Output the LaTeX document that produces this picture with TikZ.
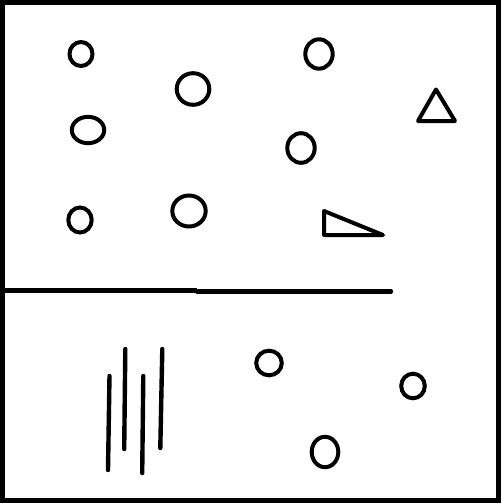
\documentclass[tikz,border=0pt]{standalone}
\begin{document}
\begin{tikzpicture}[x=1pt,y=-1pt,
  shape line/.style={draw=black,line width=4pt},
  stroke/.style={draw=black,line width=4.4pt,line cap=round}]
\useasboundingbox (0,0) rectangle (501,503);
\fill[white] (0,0) rectangle (501,503);
% frame
\draw[line width=4.8pt] (2.3,2.3) rectangle (498.6,500.6);
% divider
\draw[stroke,line cap=butt] (4,290.4) -- (197,290.4);
\draw[stroke] (197,291.4) -- (391,291.4);
% upper circles
\draw[shape line] (81,54) ellipse [x radius=11.5,y radius=12];
\draw[shape line] (193,89) ellipse [x radius=16.3,y radius=15.8];
\draw[shape line] (88,130) ellipse [x radius=16.2,y radius=13.2];
\draw[shape line] (80,220) ellipse [x radius=11.7,y radius=12.5];
\draw[shape line] (189,211) ellipse [x radius=16.7,y radius=15.5];
\draw[shape line] (319,54) ellipse [x radius=13.7,y radius=14.7];
\draw[shape line] (301,148) ellipse [x radius=13.7,y radius=14.8];
% triangles
\draw[shape line,line join=round] (436,89.5) -- (418,121) -- (455,121) -- cycle;
\draw[shape line,line join=round] (324,211) -- (324,235) -- (383,235) -- cycle;
% lower circles
\draw[shape line] (269,363) ellipse [x radius=12.8,y radius=12.3];
\draw[shape line] (413,386) ellipse [x radius=11.8,y radius=12.3];
\draw[shape line] (325,452) ellipse [x radius=13.3,y radius=15.2];
% strokes
\draw[stroke] (109.5,376) -- (108,470);
\draw[stroke] (125.3,349) -- (124.2,449);
\draw[stroke] (143.3,376) -- (142.2,473);
\draw[stroke] (162.3,349) -- (160.3,448);
\end{tikzpicture}
\end{document}
